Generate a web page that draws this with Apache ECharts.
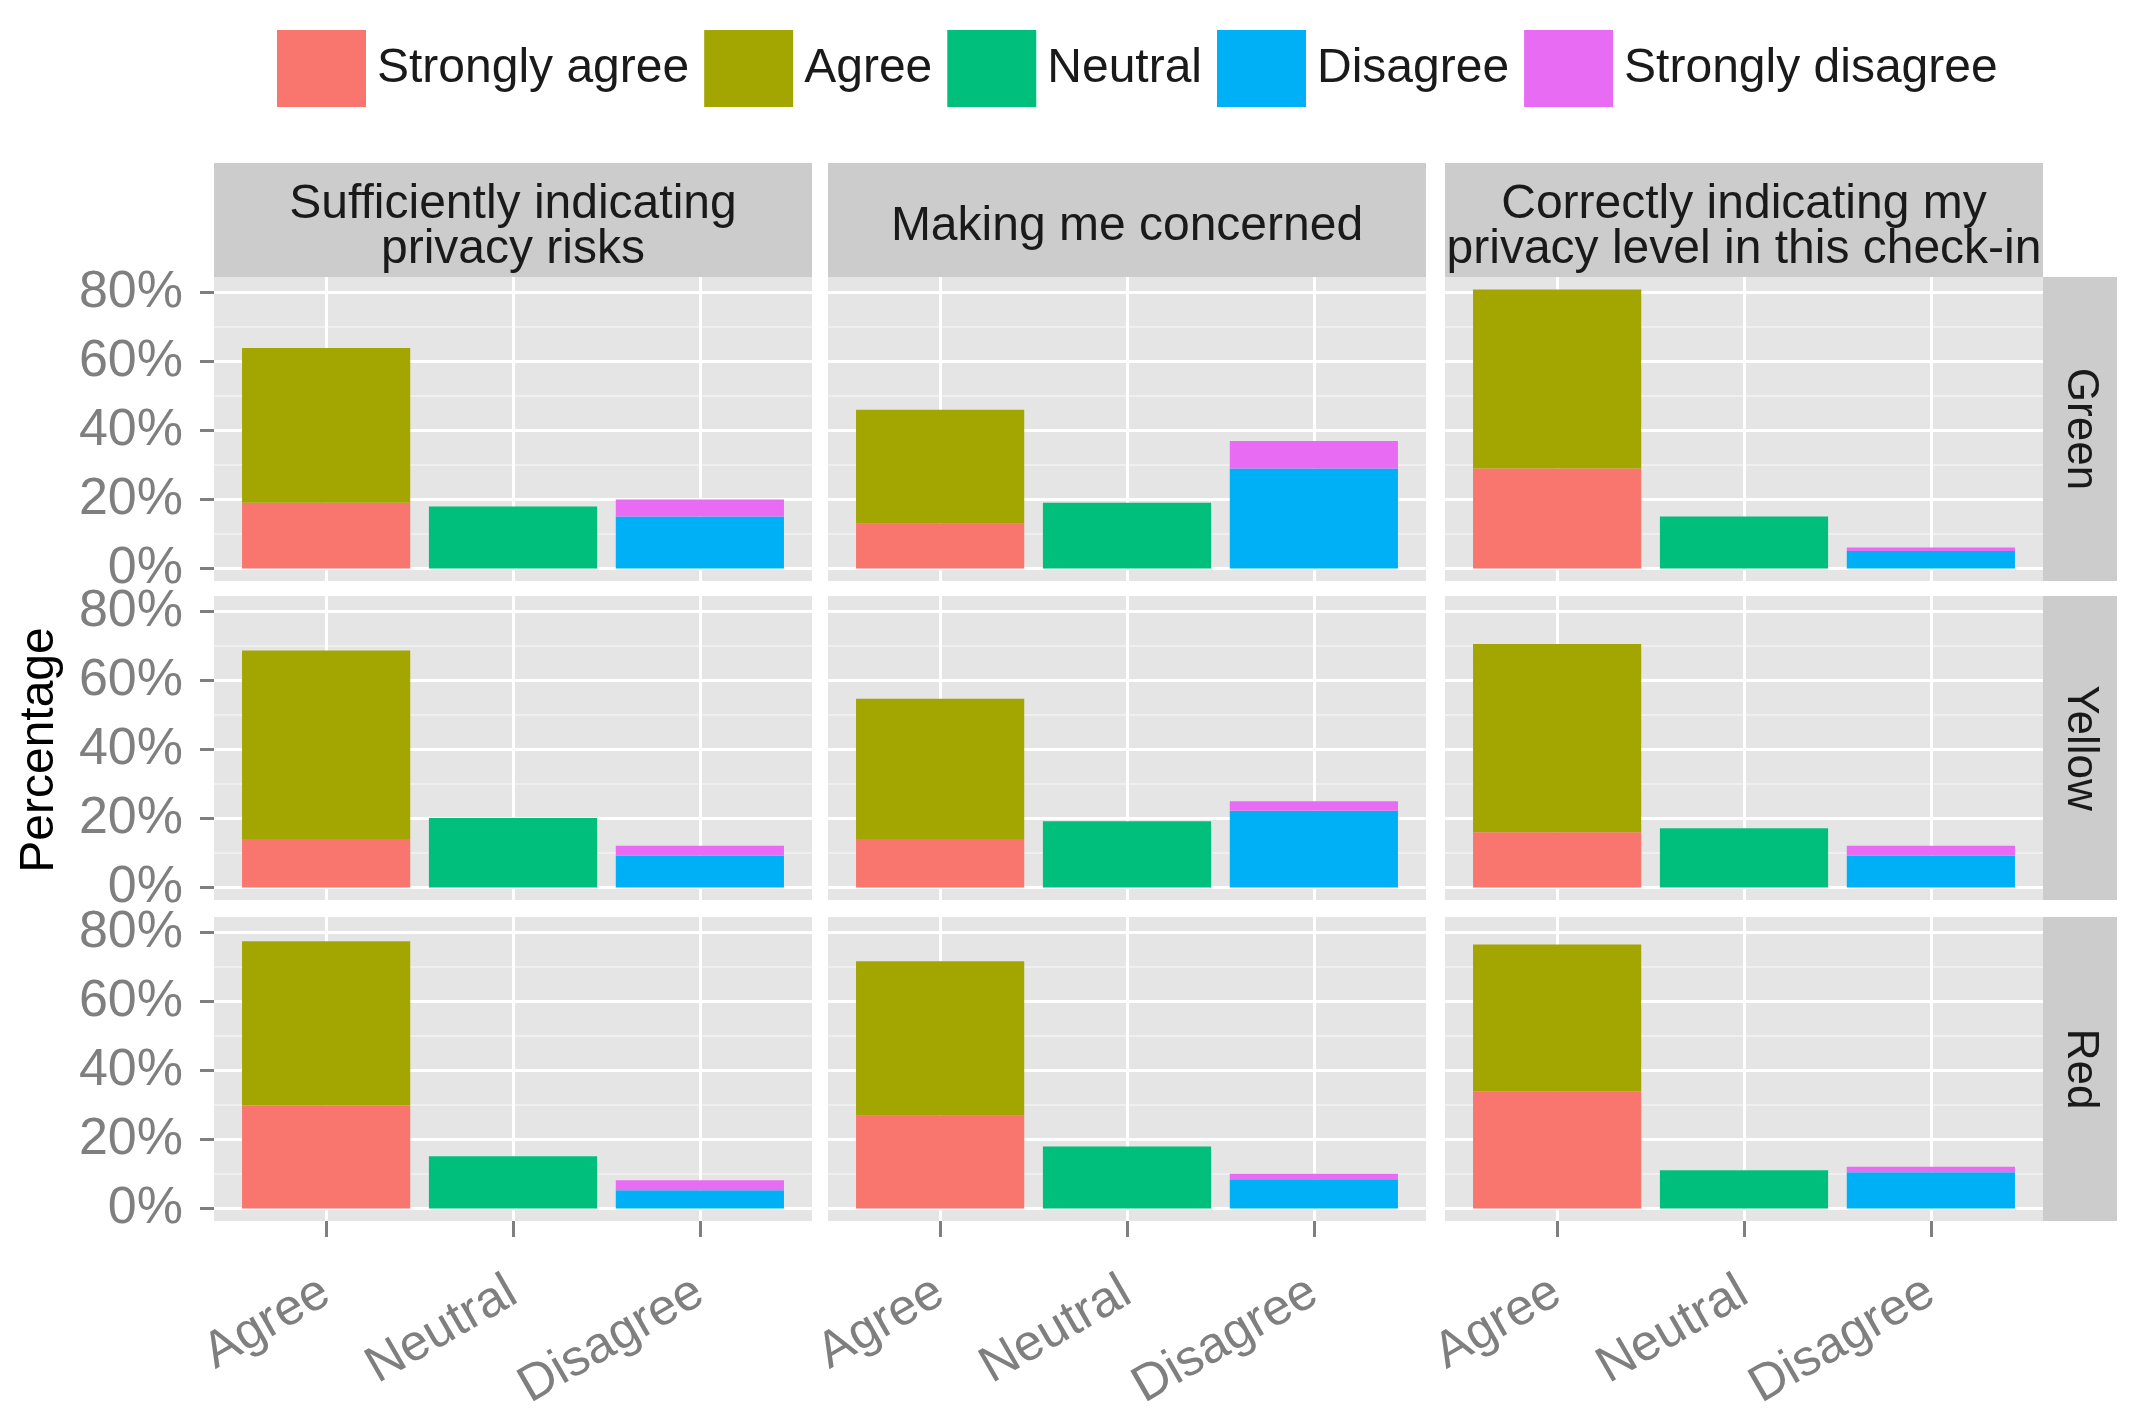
<!DOCTYPE html>
<html><head><meta charset="utf-8">
<script src="https://cdn.jsdelivr.net/npm/echarts@6/dist/echarts.min.js"></script>
<style>html,body{margin:0;padding:0;background:#fff}#c{width:2141px;height:1424px}</style>
</head><body><div id="c"></div>
<script>
// ---- data (percent) ----
const questions = ['Sufficiently indicating\nprivacy risks', 'Making me concerned', 'Correctly indicating my\nprivacy level in this check-in'];
const levels = ['Green', 'Yellow', 'Red'];
const categories = ['Agree', 'Neutral', 'Disagree'];
const responses = ['Strongly agree', 'Agree', 'Neutral', 'Disagree', 'Strongly disagree'];
const responseCategory = [0, 0, 1, 2, 2];
const yTicks = [0, 20, 40, 60, 80];
// [level][question]
const stronglyAgree    = [[19.1, 13.0, 29.0], [14.1, 14.1, 16.0], [29.9, 26.9, 34.0]];
const agree            = [[44.8, 33.0, 51.9], [54.6, 40.6, 54.6], [47.6, 44.8, 42.5]];
const neutral          = [[18.0, 19.1, 15.1], [20.2, 19.2, 17.2], [15.2, 18.0, 11.1]];
const disagree         = [[15.1, 29.0, 5.1], [9.2, 22.3, 9.2], [5.3, 8.5, 10.5]];
const stronglyDisagree = [[4.9, 8.0, 1.0], [2.9, 2.7, 2.9], [2.9, 1.6, 1.6]];
const responseValues = [stronglyAgree, agree, neutral, disagree, stronglyDisagree];

// ---- style / layout ----
const colors = ['#F8766D', '#A3A500', '#00BF7D', '#00B0F6', '#E76BF3'];
const FONT = 'Liberation Sans, Arial, sans-serif';
const panelLeft = [214, 828, 1445];
const panelTop = [277, 596, 917];
const panelW = 598, panelH = 304;
const yMin = -3.6, yMax = 84.5;
const stripTop = 163, stripH = 114;
const rStripX = 2043, rStripW = 74;

const grid = [], xAxis = [], yAxis = [], series = [], graphic = [];

for (let r = 0; r < 3; r++) {
  for (let c = 0; c < 3; c++) {
    const k = r * 3 + c;
    const bg = 2 * k, dg = 2 * k + 1;
    // background grid: panel + grid lines + y axis
    grid.push({left: panelLeft[c], top: panelTop[r], width: panelW, height: panelH,
      show: true, backgroundColor: '#E5E5E5', borderWidth: 0, containLabel: false});
    xAxis.push({type: 'value', gridIndex: bg, min: -0.6, max: 2.6, splitNumber: 3,
      axisLine: {show: false, onZero: false}, axisTick: {show: false}, axisLabel: {show: false},
      splitLine: {show: true, showMinLine: false, showMaxLine: false, lineStyle: {color: '#FFFFFF', width: 3}}});
    yAxis.push({type: 'value', gridIndex: bg, min: yMin, max: yMax, splitNumber: 5, position: 'left',
      axisLine: {show: false, onZero: false},
      axisTick: {show: c === 0, customValues: yTicks, length: 14, lineStyle: {color: '#7F7F7F', width: 3}},
      axisLabel: {show: c === 0, customValues: yTicks, margin: 31,
        fontSize: 52, fontFamily: FONT, color: '#7F7F7F',
        formatter: v => (Math.abs(v % 20) < 1e-6 ? v + '%' : '')},
      splitLine: {show: true, lineStyle: {color: '#FFFFFF', width: 3}},
      minorTick: {show: false, splitNumber: 2},
      minorSplitLine: {show: true, lineStyle: {color: '#F2F2F2', width: 1.5}}});
    // data grid: category bars
    const inner = panelW / 3.2;
    grid.push({left: panelLeft[c] + inner * 0.1, top: panelTop[r], width: inner * 3, height: panelH,
      show: false, containLabel: false});
    xAxis.push({type: 'category', gridIndex: dg, data: categories, boundaryGap: true, position: 'bottom',
      axisLine: {show: false, onZero: false}, splitLine: {show: false},
      axisTick: {show: r === 2, alignWithLabel: true, length: 16, lineStyle: {color: '#7F7F7F', width: 3}},
      axisLabel: {show: r === 2, rotate: 30, margin: 68, fontSize: 51, fontFamily: FONT, color: '#7F7F7F', interval: 0}});
    yAxis.push({type: 'value', gridIndex: dg, min: yMin, max: yMax, show: false,
      axisLine: {onZero: false}, splitLine: {show: false}});
    responses.forEach((name, i) => {
      const d = categories.map((_, j) => (j === responseCategory[i] ? responseValues[i][r][c] : '-'));
      series.push({type: 'bar', name, xAxisIndex: dg, yAxisIndex: dg, stack: 'p' + k,
        barWidth: '90%', data: d, itemStyle: {color: colors[i]}, emphasis: {disabled: true}});
    });
  }
}

// facet strips (top)
for (let c = 0; c < 3; c++) {
  graphic.push({type: 'rect', shape: {x: panelLeft[c], y: stripTop, width: panelW, height: stripH},
    style: {fill: '#CCCCCC'}, silent: true});
  graphic.push({type: 'text', x: panelLeft[c] + panelW / 2, y: stripTop + stripH / 2 + 7, silent: true,
    style: {text: questions[c], fill: '#1A1A1A', font: '48px ' + FONT, lineHeight: 45,
      textAlign: 'center', textVerticalAlign: 'middle'}});
}
// facet strips (right)
for (let r = 0; r < 3; r++) {
  graphic.push({type: 'rect', shape: {x: rStripX, y: panelTop[r], width: rStripW, height: panelH},
    style: {fill: '#CCCCCC'}, silent: true});
  graphic.push({type: 'text', x: rStripX + rStripW / 2, y: panelTop[r] + panelH / 2, rotation: -Math.PI / 2, silent: true,
    style: {text: levels[r], fill: '#1A1A1A', font: '44px ' + FONT, textAlign: 'center', textVerticalAlign: 'middle'}});
}
// y axis title
graphic.push({type: 'text', x: 40, y: 750, rotation: Math.PI / 2, silent: true,
  style: {text: 'Percentage', fill: '#000000', font: '48px ' + FONT, textAlign: 'center', textVerticalAlign: 'middle'}});

const chart = echarts.init(document.getElementById('c'), null, {renderer: 'canvas', width: 2141, height: 1424});
chart.setOption({
  animation: false,
  backgroundColor: '#FFFFFF',
  legend: {data: responses, left: 272, top: 25, itemWidth: 89, itemHeight: 77, itemGap: 15, icon: 'rect',
    selectedMode: false, textStyle: {fontSize: 48, fontFamily: FONT, color: '#1A1A1A', padding: [0, 0, 0, 6]}},
  grid, xAxis, yAxis, series, graphic
});
</script></body></html>
